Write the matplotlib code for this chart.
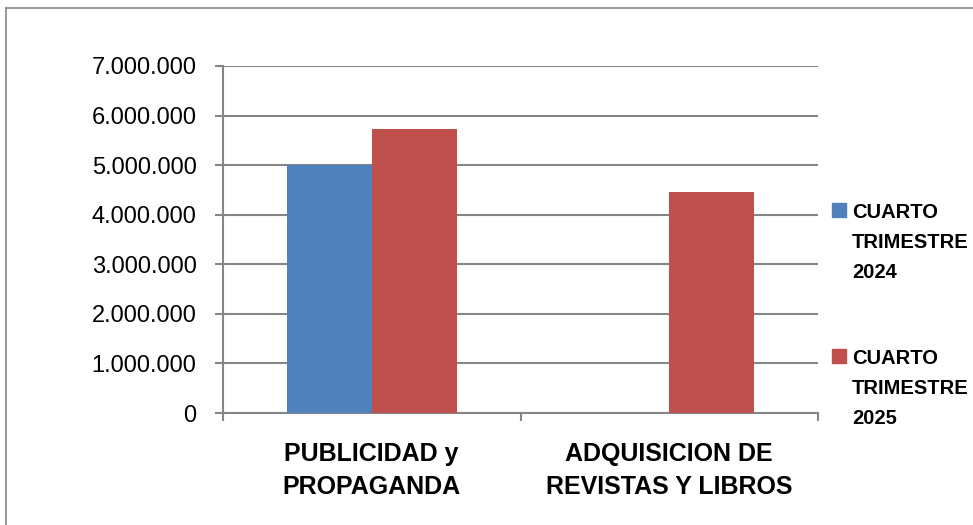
import matplotlib.pyplot as plt
from matplotlib.patches import Rectangle
from matplotlib.lines import Line2D
from matplotlib.ticker import FuncFormatter, MultipleLocator

plt.rcParams['font.family'] = ['Liberation Sans', 'DejaVu Sans']

# datos
categorias = ['PUBLICIDAD y\nPROPAGANDA', 'ADQUISICION DE\nREVISTAS Y LIBROS']
series = ['CUARTO TRIMESTRE 2024', 'CUARTO TRIMESTRE 2025']
valores_2024 = [5010000, 0]
valores_2025 = [5730000, 4460000]
colores = ['#4F81BD', '#C0504D']

W, H = 973, 525
fig = plt.figure(figsize=(W / 100, H / 100), dpi=100)
ax = fig.add_axes([223 / W, 1 - 413 / H, (818 - 223) / W, (413 - 66) / H])

x = list(range(len(categorias)))
ancho = 0.2857
ax.bar([i - ancho / 2 for i in x], valores_2024, width=ancho, color=colores[0], zorder=3)
ax.bar([i + ancho / 2 for i in x], valores_2025, width=ancho, color=colores[1], zorder=3)

gris = '#868686'
ax.set_xlim(-0.5, len(categorias) - 0.5)
ax.set_ylim(0, 7000000)
ax.yaxis.set_major_locator(MultipleLocator(1000000))
ax.yaxis.set_major_formatter(FuncFormatter(lambda v, p: f'{int(v):,}'.replace(',', '.')))
ax.grid(axis='y', color=gris, linewidth=1.5, zorder=0)

for s in ['top', 'right']:
    ax.spines[s].set_visible(False)
for s in ['left', 'bottom']:
    ax.spines[s].set_color(gris)
    ax.spines[s].set_linewidth(1.5)

ax.set_xticks(x)
ax.set_xticklabels(categorias, fontsize=18, fontweight='bold', linespacing=1.45)
ax.set_xticks([-0.5, 0.5, 1.5], minor=True)
ax.tick_params(axis='x', which='major', length=0, pad=21)
ax.tick_params(axis='x', which='minor', length=6, color=gris, width=1.5)
ax.tick_params(axis='y', length=6, color=gris, width=1.5, pad=13, labelsize=17)

# leyenda manual
tops = [203, 349]
for nombre, color, top in zip(series, colores, tops):
    fig.patches.append(Rectangle((832 / W, 1 - (top + 14) / H), 14 / W, 14 / H,
                                 transform=fig.transFigure, color=color))
    for k, linea in enumerate(nombre.split(' ')):
        fig.text(852 / W, 1 - (top + 15 + 30 * k) / H, linea, fontsize=14.5,
                 fontweight='bold', va='baseline', ha='left')

# borde del grafico
fig.add_artist(Line2D([6 / W, 6 / W], [0, 1 - 8 / H], color='#888888', linewidth=1.2))
fig.add_artist(Line2D([6 / W, 1], [1 - 8 / H, 1 - 8 / H], color='#888888', linewidth=1.2))

fig.savefig('out.png', dpi=100)
